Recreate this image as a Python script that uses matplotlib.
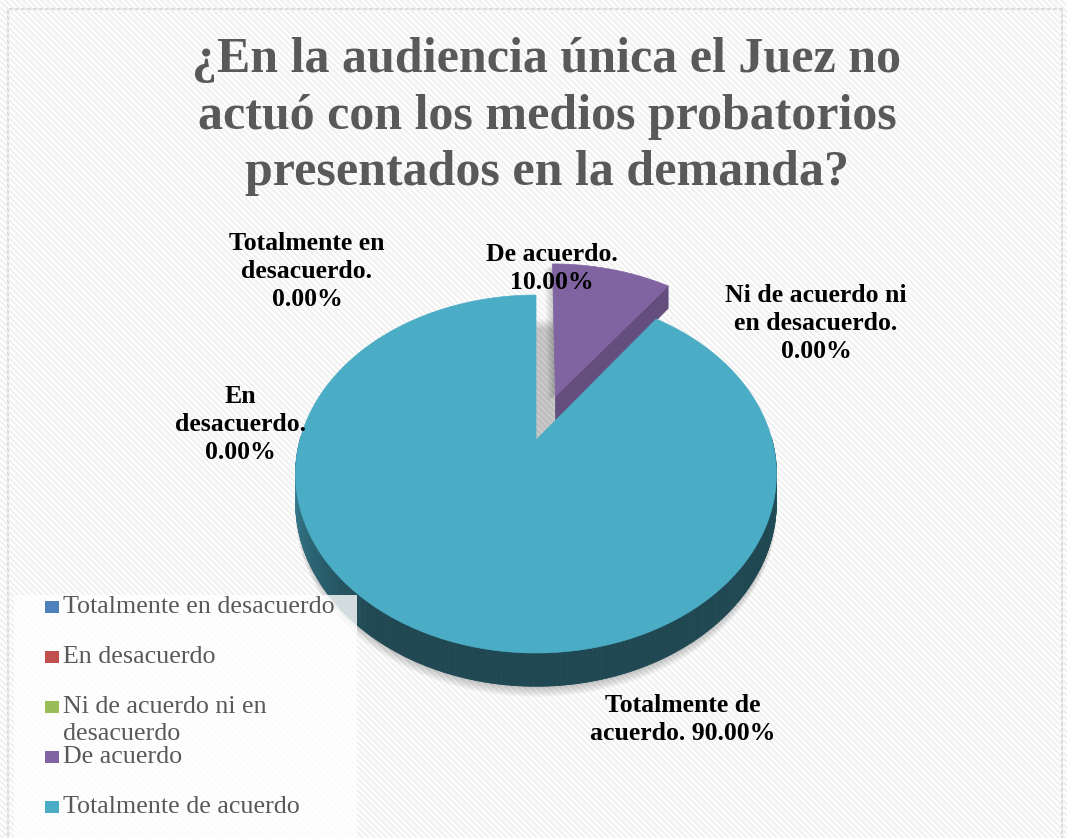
import numpy as np
import matplotlib.pyplot as plt
from matplotlib.patches import Polygon, Rectangle
from matplotlib.collections import LineCollection
from matplotlib.colors import to_rgb

# data
categories = ['Totalmente en desacuerdo', 'En desacuerdo',
              'Ni de acuerdo ni en desacuerdo', 'De acuerdo',
              'Totalmente de acuerdo']
percentages = [0.0, 0.0, 0.0, 10.0, 90.0]
colors = ['#4f81bd', '#c0504d', '#9bbb59', '#8064a2', '#4bacc6']
label_names = ['Totalmente en\ndesacuerdo.', 'En\ndesacuerdo.',
               'Ni de acuerdo ni\nen desacuerdo.', 'De acuerdo.',
               'Totalmente de\nacuerdo.']
label_sep = ['\n', '\n', '\n', '\n', ' ']
legend_labels = ['Totalmente en desacuerdo', 'En desacuerdo',
                 'Ni de acuerdo ni en\ndesacuerdo', 'De acuerdo',
                 'Totalmente de acuerdo']
title_lines = ['¿En la audiencia única el Juez no',
               'actuó con los medios probatorios',
               'presentados en la demanda?']
explode = [0, 0, 0, 0.28, 0]

# layout (pixels, y downwards); label positions = first line baseline
label_pos = [(307, 250), (240, 403), (816, 302), (552, 261), (683, 712)]
W, H = 1067, 838
cx, cy = 536, 440
rx, ry = 236, 172.5
persp = 0.19
depth = 27

plt.rcParams['font.family'] = 'Liberation Serif'


def project(X, Z, h=0.0):
    w = 1 + persp * Z
    return cx + rx * X / w, cy - ry * Z / w + depth * h / w


def scaled(color, k):
    r, g, b = to_rgb(color)
    return (r * k, g * k, b * k)


def wall_shade(t):
    deg = np.degrees(t) % 360
    u = (deg - 180) / 180
    return np.interp(u, [0, 0.3, 0.85, 1], [0.8, 0.42, 0.42, 0.5])


def draw_lines(ax, x, y0, text, step, **kw):
    for i, line in enumerate(text.split('\n')):
        ax.text(x, y0 + i * step, line, va='baseline', **kw)


fig = plt.figure(figsize=(W / 100, H / 100), dpi=100)
ax = fig.add_axes([0, 0, 1, 1])
ax.set_xlim(0, W)
ax.set_ylim(H, 0)
ax.axis('off')

# background frame with diagonal stripes
frame = Rectangle((8, 9), 1054, 840, fc='white', ec='#d9d9d9', lw=1.5,
                  zorder=0)
ax.add_patch(frame)
segs = [[(0, c), (W, c + W)] for c in np.arange(-W, H, 6)]
lc = LineCollection(segs, colors='#efefef', linewidths=1.4, zorder=0.5)
lc.set_clip_path(frame)
ax.add_collection(lc)

# slice angles (start at top, clockwise)
fractions = np.array(percentages) / sum(percentages)
start = 90.0
slices = []
for i, f in enumerate(fractions):
    t1, t2 = start, start - 360 * f
    start = t2
    if f <= 0:
        continue
    tm = np.radians((t1 + t2) / 2)
    ex, ez = explode[i] * np.cos(tm), explode[i] * np.sin(tm)
    slices.append((i, np.radians(t1), np.radians(t2), ex, ez))

# soft shadow under the pie
tt = np.linspace(0, 2 * np.pi, 240)
for k in range(1, 8):
    pts = [project(np.cos(t), np.sin(t), 1) for t in tt]
    pts = [(x, y + k * 1.5) for x, y in pts]
    ax.add_patch(Polygon(pts, fc='k', ec='none', alpha=0.03, zorder=1))

# shadows of exploded slices
for i, t1, t2, ex, ez in slices:
    if explode[i] == 0:
        continue
    ts = np.linspace(t1, t2, 60)
    top = [project(ex, ez)] + [project(ex + np.cos(t), ez + np.sin(t)) for t in ts]
    for k in range(1, 6):
        pts = [(x - k * 1.5, y + k) for x, y in top]
        ax.add_patch(Polygon(pts, fc='k', ec='none', alpha=0.04, zorder=1))

# slices, far ones first
for i, t1, t2, ex, ez in sorted(slices, key=lambda s: -s[4]):
    col = colors[i]
    n = max(3, int(abs(np.degrees(t2 - t1)) * 2))
    ts = np.linspace(t1, t2, n)
    for te, vis in ((t2, np.cos(t2) > 1e-6), (t1, np.cos(t1) < -1e-6)):
        if vis:
            face = [project(ex, ez, 0), project(ex + np.cos(te), ez + np.sin(te), 0),
                    project(ex + np.cos(te), ez + np.sin(te), 1), project(ex, ez, 1)]
            c = scaled(col, 0.78)
            ax.add_patch(Polygon(face, fc=c, ec=c, lw=0.5, zorder=2))
    for a, b in zip(ts[:-1], ts[1:]):
        if np.sin((a + b) / 2) >= 0.02:
            continue
        quad = [project(ex + np.cos(a), ez + np.sin(a), 0),
                project(ex + np.cos(b), ez + np.sin(b), 0),
                project(ex + np.cos(b), ez + np.sin(b), 1),
                project(ex + np.cos(a), ez + np.sin(a), 1)]
        c = scaled(col, wall_shade((a + b) / 2))
        ax.add_patch(Polygon(quad, fc=c, ec=c, lw=0.6, zorder=2))
    top = [project(ex, ez)] + [project(ex + np.cos(t), ez + np.sin(t)) for t in ts]
    ax.add_patch(Polygon(top, fc=col, ec=col, lw=0.5, zorder=2))

# data labels
for i, (x, y) in enumerate(label_pos):
    text = f'{label_names[i]}{label_sep[i]}{percentages[i]:.2f}%'
    draw_lines(ax, x, y, text, 28, ha='center', fontsize=18.5,
               fontweight='bold', color='black', zorder=4)

# title
for k, line in enumerate(title_lines):
    ax.text(547, 72 + k * 56.5, line, ha='center', va='baseline',
            fontsize=36, fontweight='bold', color='#595959', zorder=4)

# legend
ax.add_patch(Rectangle((14, 595), 343, 250, fc='white', ec='none',
                       alpha=0.8, zorder=5))
for i, lab in enumerate(legend_labels):
    y = 613 + 50 * i
    ax.add_patch(Rectangle((45, y - 12), 14, 12, fc=colors[i], ec='none',
                           zorder=6))
    draw_lines(ax, 63, y, lab, 27, ha='left', fontsize=18.7,
               color='#595959', zorder=6)

fig.savefig('out.png', dpi=100)
